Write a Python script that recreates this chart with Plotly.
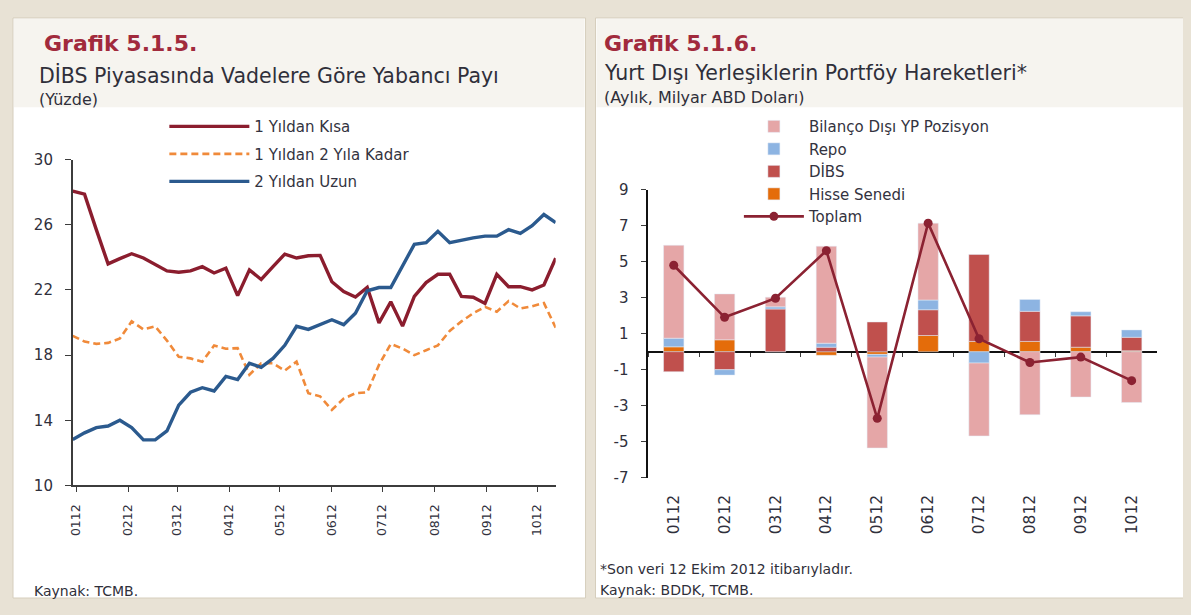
import plotly.graph_objects as go
import pandas as pd

# page is 1191x615; the browser body keeps an 8px margin, so the figure is
# drawn 16px smaller and all positions below are given in page pixels
PW, PH = 1191, 615
OFF = 8
FW, FH = PW - 2 * OFF, PH - 2 * OFF

# ---------------- Left chart data (weekly, %) ----------------
weeks = pd.date_range("2011-12-30", periods=42, freq="7D")
month_ticks = pd.date_range("2012-01-01", periods=10, freq="MS")

kisa = [28.07, 27.88, 25.70, 23.60, 23.92, 24.22, 23.96, 23.57, 23.17, 23.09,
        23.17, 23.43, 23.04, 23.33, 21.65, 23.23, 22.64, 23.43, 24.20, 23.96,
        24.10, 24.12, 22.50, 21.90, 21.57, 22.16, 19.98, 21.27, 19.78, 21.60,
        22.45, 22.96, 22.96, 21.60, 21.55, 21.17, 22.96, 22.20, 22.20, 22.00,
        22.30, 23.95]
bir_iki = [19.18, 18.83, 18.69, 18.75, 19.02, 20.07, 19.58, 19.77, 18.89, 17.90,
           17.80, 17.60, 18.59, 18.39, 18.43, 16.80, 17.50, 17.50, 17.05, 17.60,
           15.66, 15.47, 14.64, 15.33, 15.66, 15.72, 17.40, 18.69, 18.40, 18.00,
           18.30, 18.60, 19.48, 20.07, 20.57, 20.96, 20.66, 21.32, 20.86, 21.00,
           21.20, 19.68]
uzun = [12.82, 13.23, 13.55, 13.65, 14.00, 13.55, 12.80, 12.80, 13.35, 14.93,
        15.72, 16.00, 15.80, 16.70, 16.50, 17.50, 17.25, 17.80, 18.60, 19.77,
        19.58, 19.87, 20.17, 19.87, 20.57, 21.95, 22.15, 22.15, 23.43, 24.80,
        24.90, 25.60, 24.90, 25.07, 25.20, 25.30, 25.30, 25.70, 25.47, 25.94,
        26.63, 26.14]
left_yticks = [10, 14, 18, 22, 26, 30]

# ---------------- Right chart data (monthly, billion USD) ----------------
months = ["0112", "0212", "0312", "0412", "0512", "0612", "0712", "0812", "0912", "1012"]
hisse = [0.27, 0.66, 0.00, -0.20, -0.15, 0.90, 0.57, 0.57, 0.25, 0.05]
dibs = [-1.11, -1.00, 2.37, 0.25, 1.65, 1.43, 4.83, 1.67, 1.74, 0.75]
repo = [0.48, -0.30, 0.12, 0.22, -0.15, 0.54, -0.63, 0.66, 0.23, 0.41]
bilanco = [5.16, 2.55, 0.54, 5.39, -5.05, 4.27, -4.05, -3.50, -2.52, -2.82]
toplam = [4.80, 1.91, 2.97, 5.61, -3.70, 7.14, 0.72, -0.60, -0.30, -1.61]
right_yticks = [-7, -5, -3, -1, 1, 3, 5, 7, 9]
right_yticktext = ["-7", "-5", "-3", "-1", "1", "3", "5", "7", "9"]


def fx(px):
    return (px - OFF) / FW


def fy(py):
    return 1 - (py - OFF) / FH


fig = go.Figure()

# Left chart lines
fig.add_trace(go.Scatter(x=weeks, y=kisa, mode="lines", name="1 Yıldan Kısa",
                         line=dict(color="#8B1D2E", width=3.4),
                         xaxis="x", yaxis="y", legend="legend", legendgroup="a"))
fig.add_trace(go.Scatter(x=weeks, y=bir_iki, mode="lines", name="1 Yıldan 2 Yıla Kadar",
                         line=dict(color="#F08A3A", width=2.6, dash="7px,4px"),
                         xaxis="x", yaxis="y", legend="legend", legendgroup="b"))
fig.add_trace(go.Scatter(x=weeks, y=uzun, mode="lines", name="2 Yıldan Uzun",
                         line=dict(color="#2B5A8E", width=3.4),
                         xaxis="x", yaxis="y", legend="legend", legendgroup="c"))

# Right chart (bar stacking order: Hisse, DİBS, Repo, Bilanço)
fig.add_trace(go.Bar(x=months, y=hisse, name="Hisse Senedi", marker_color="#E46C0A",
                     xaxis="x2", yaxis="y2", legend="legend2", legendrank=4))
fig.add_trace(go.Bar(x=months, y=dibs, name="DİBS", marker_color="#C0504D",
                     xaxis="x2", yaxis="y2", legend="legend2", legendrank=3))
fig.add_trace(go.Bar(x=months, y=repo, name="Repo", marker_color="#8DB4E2",
                     xaxis="x2", yaxis="y2", legend="legend2", legendrank=2))
fig.add_trace(go.Bar(x=months, y=bilanco, name="Bilanço Dışı YP Pozisyon",
                     marker_color="#E5A6A7",
                     xaxis="x2", yaxis="y2", legend="legend2", legendrank=1))
fig.add_trace(go.Scatter(x=months, y=toplam, mode="lines+markers", name="Toplam",
                         line=dict(color="#8B2232", width=2.6),
                         marker=dict(color="#8B2232", size=9),
                         xaxis="x2", yaxis="y2", legend="legend2", legendrank=5))
# helper trace for boundary ticks on the zero line
fig.add_trace(go.Scatter(x=months, y=[None] * len(months), mode="lines",
                         showlegend=False, hoverinfo="skip",
                         xaxis="x3", yaxis="y2"))

sans = "DejaVu Sans, Verdana, sans-serif"
tick_col = "#30303C"
line_col = "#3C3C3C"

layout = dict(
    width=FW, height=FH,
    margin=dict(l=0, r=0, t=0, b=0),
    paper_bgcolor="#E8E2D5",
    plot_bgcolor="rgba(0,0,0,0)",
    barmode="relative",
    bargap=0.6,
    showlegend=True,
    xaxis=dict(domain=[fx(68), fx(553)], anchor="y", type="date",
               range=[weeks[0], weeks[-1]],
               tickvals=list(month_ticks), tickformat="%m%y", tickangle=-90,
               ticks="outside", ticklen=5, tickcolor=line_col, ticklabelstandoff=7,
               showline=True, linecolor=line_col, linewidth=1.6,
               showgrid=False, zeroline=False,
               tickfont=dict(family=sans, size=12.5, color=tick_col)),
    yaxis=dict(domain=[fy(491), fy(155)], anchor="x", range=[10, 30],
               tickvals=left_yticks, ticks="outside", ticklen=6, tickcolor=line_col,
               ticklabelstandoff=9,
               showline=True, linecolor=line_col, linewidth=1.6,
               showgrid=False, zeroline=False,
               tickfont=dict(family=sans, size=15, color=tick_col)),
    xaxis2=dict(domain=[fx(646), fx(1157)], anchor="y2", type="category",
                categoryorder="array", categoryarray=months, range=[-0.5, 9.5],
                tickangle=-90, ticks="", ticklabelstandoff=13,
                showline=False, showgrid=False, zeroline=False,
                tickfont=dict(family=sans, size=15.5, color=tick_col)),
    xaxis3=dict(domain=[fx(646), fx(1157)], overlaying="x2", anchor="free",
                position=fy(353.3), type="category", categoryorder="array",
                categoryarray=months, range=[-0.5, 9.5], showticklabels=False,
                ticks="outside", tickson="boundaries", ticklen=4, tickcolor=line_col,
                showline=False, showgrid=False, zeroline=False),
    yaxis2=dict(domain=[fy(483), fy(186)], anchor="x2", range=[-7, 9],
                tickvals=right_yticks, ticktext=right_yticktext,
                ticks="outside", ticklen=5, tickcolor=line_col, ticklabelstandoff=10,
                showline=True, linecolor="#111111", linewidth=1.6,
                showgrid=False, zeroline=True, zerolinecolor="#111111",
                zerolinewidth=1.6,
                tickfont=dict(family=sans, size=15, color=tick_col)),
    legend=dict(x=fx(160), y=fy(104), xanchor="left", yanchor="top",
                bgcolor="rgba(0,0,0,0)", traceorder="grouped", tracegroupgap=5,
                itemwidth=80,
                font=dict(family=sans, size=15, color="#333340")),
    legend2=dict(x=fx(737), y=fy(104), xanchor="left", yanchor="top",
                 bgcolor="rgba(0,0,0,0)", traceorder="normal", itemwidth=60,
                 font=dict(family=sans, size=15, color="#333340")),
)
fig.update_layout(**layout)

# Panel frames (decoration)
shapes = []
for x0, x1 in [(8, 583), (593, 1186)]:
    shapes.append(dict(type="rect", xref="paper", yref="paper", layer="below",
                       x0=fx(x0), x1=fx(x1), y0=fy(607), y1=fy(9),
                       fillcolor="#FFFFFF", line=dict(color="#D6CEBD", width=1)))
    shapes.append(dict(type="rect", xref="paper", yref="paper", layer="below",
                       x0=fx(x0 + 1), x1=fx(x1 - 1), y0=fy(101), y1=fy(10),
                       fillcolor="#F6F4EF", line=dict(width=0)))
fig.update_layout(shapes=shapes)

title_font = "DejaVu Sans, sans-serif"
ann = [
    dict(text="<b>Grafik 5.1.5.</b>", x=fx(37), y=fy(35), size=22, color="#A12A3C"),
    dict(text="DİBS Piyasasında Vadelere Göre Yabancı Payı", x=fx(32), y=fy(68), size=20.5, color="#2F2F3A"),
    dict(text="(Yüzde)", x=fx(32), y=fy(93), size=16, color="#2F2F3A"),
    dict(text="<b>Grafik 5.1.6.</b>", x=fx(600), y=fy(35), size=22, color="#A12A3C"),
    dict(text="Yurt Dışı Yerleşiklerin Portföy Hareketleri*", x=fx(600), y=fy(66), size=20.5, color="#2F2F3A"),
    dict(text="(Aylık, Milyar ABD Doları)", x=fx(600), y=fy(91), size=16, color="#2F2F3A"),
    dict(text="Kaynak: TCMB.", x=fx(27), y=fy(600), size=14, color="#2F2F3A"),
    dict(text="*Son veri 12 Ekim 2012 itibarıyladır.", x=fx(595), y=fy(577), size=14, color="#2F2F3A"),
    dict(text="Kaynak: BDDK, TCMB.", x=fx(595), y=fy(599), size=14, color="#2F2F3A"),
]
fig.update_layout(annotations=[
    dict(text=a["text"], x=a["x"], y=a["y"], xref="paper", yref="paper",
         xanchor="left", yanchor="middle", showarrow=False,
         font=dict(family=title_font, size=a["size"], color=a["color"]))
    for a in ann
])

fig.write_html("out.html", config={"displayModeBar": False},
               post_script="document.body.style.background='#E8E2D5';")
